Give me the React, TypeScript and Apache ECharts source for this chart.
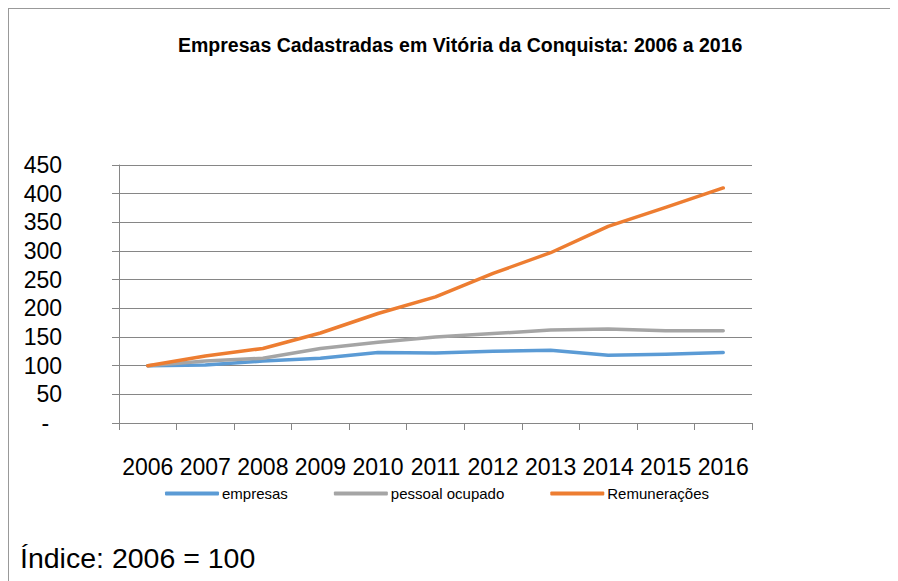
import React, { useEffect, useRef } from "react";
import * as echarts from "echarts";

const years = ["2006", "2007", "2008", "2009", "2010", "2011", "2012", "2013", "2014", "2015", "2016"];
const empresas = [100, 101, 108, 113, 123, 122, 125, 127, 118, 120, 123];
const pessoalOcupado = [100, 108, 113, 130, 141, 150, 156, 162, 164, 161, 161];
const remuneracoes = [100, 117, 130, 157, 191, 220, 261, 297, 343, 376, 410];
const seriesNames = ["empresas", "pessoal ocupado", "Remunerações"];
const seriesColors = ["#5B9BD5", "#A5A5A5", "#ED7D31"];
const titleText = "Empresas Cadastradas em Vitória da Conquista: 2006 a 2016";
const noteText = "Índice: 2006 = 100";

const FONT = "'Liberation Sans', Arial, sans-serif";

export default function App() {
  const ref = useRef<HTMLDivElement>(null);
  useEffect(() => {
    if (!ref.current) return;
    const chart = echarts.init(ref.current, undefined, { renderer: "svg" });
    const data = [empresas, pessoalOcupado, remuneracoes];
    chart.setOption({
      animation: false,
      backgroundColor: "#ffffff",
      textStyle: { fontFamily: FONT },
      title: {
        text: titleText,
        left: 165,
        top: 22,
        textStyle: { fontFamily: FONT, fontSize: 19.5, fontWeight: "bold", color: "#000" },
      },
      legend: {
        left: 152,
        top: 473,
        icon: "roundRect",
        itemWidth: 54,
        itemHeight: 4,
        itemGap: 46,
        data: seriesNames,
        textStyle: { fontFamily: FONT, fontSize: 15, color: "#000", padding: [0, 0, 0, -2] },
      },
      grid: { left: 111, right: 146, top: 157, bottom: 158, containLabel: false },
      xAxis: {
        type: "category",
        data: years,
        boundaryGap: true,
        axisLine: { lineStyle: { color: "#868686", width: 1 } },
        axisTick: { show: true, interval: 0, length: 7, lineStyle: { color: "#868686" } },
        axisLabel: { fontFamily: FONT, fontSize: 23, color: "#000", margin: 32, interval: 0 },
        splitLine: { show: false },
      },
      yAxis: {
        type: "value",
        min: 0,
        max: 450,
        interval: 50,
        axisLine: { show: true, lineStyle: { color: "#868686", width: 1 } },
        axisTick: { show: true, length: 7, lineStyle: { color: "#868686" } },
        axisLabel: {
          fontFamily: FONT,
          fontSize: 23,
          color: "#000",
          margin: 57,
          formatter: (v: number) => (v === 0 ? "-\u00a0\u00a0" : String(v)),
        },
        splitLine: { show: true, lineStyle: { color: "#868686", width: 1 } },
      },
      series: seriesNames.map((name, i) => ({
        name,
        type: "line",
        data: data[i],
        showSymbol: false,
        symbol: "none",
        lineStyle: { color: seriesColors[i], width: 3.5, cap: "round", join: "round" },
        itemStyle: { color: seriesColors[i] },
      })),
      graphic: [
        { type: "line", shape: { x1: 0, y1: 0.5, x2: 890, y2: 0.5 }, style: { stroke: "#999", lineWidth: 1 } },
        { type: "line", shape: { x1: 0.5, y1: 0, x2: 0.5, y2: 573 }, style: { stroke: "#999", lineWidth: 1 } },
        {
          type: "text",
          left: 12,
          top: 535,
          style: { text: noteText, fontFamily: FONT, fontSize: 28.5, fill: "#000" },
        },
      ],
    });
    return () => chart.dispose();
  }, []);
  return <div ref={ref} style={{ width: 890, height: 573 }} />;
}
